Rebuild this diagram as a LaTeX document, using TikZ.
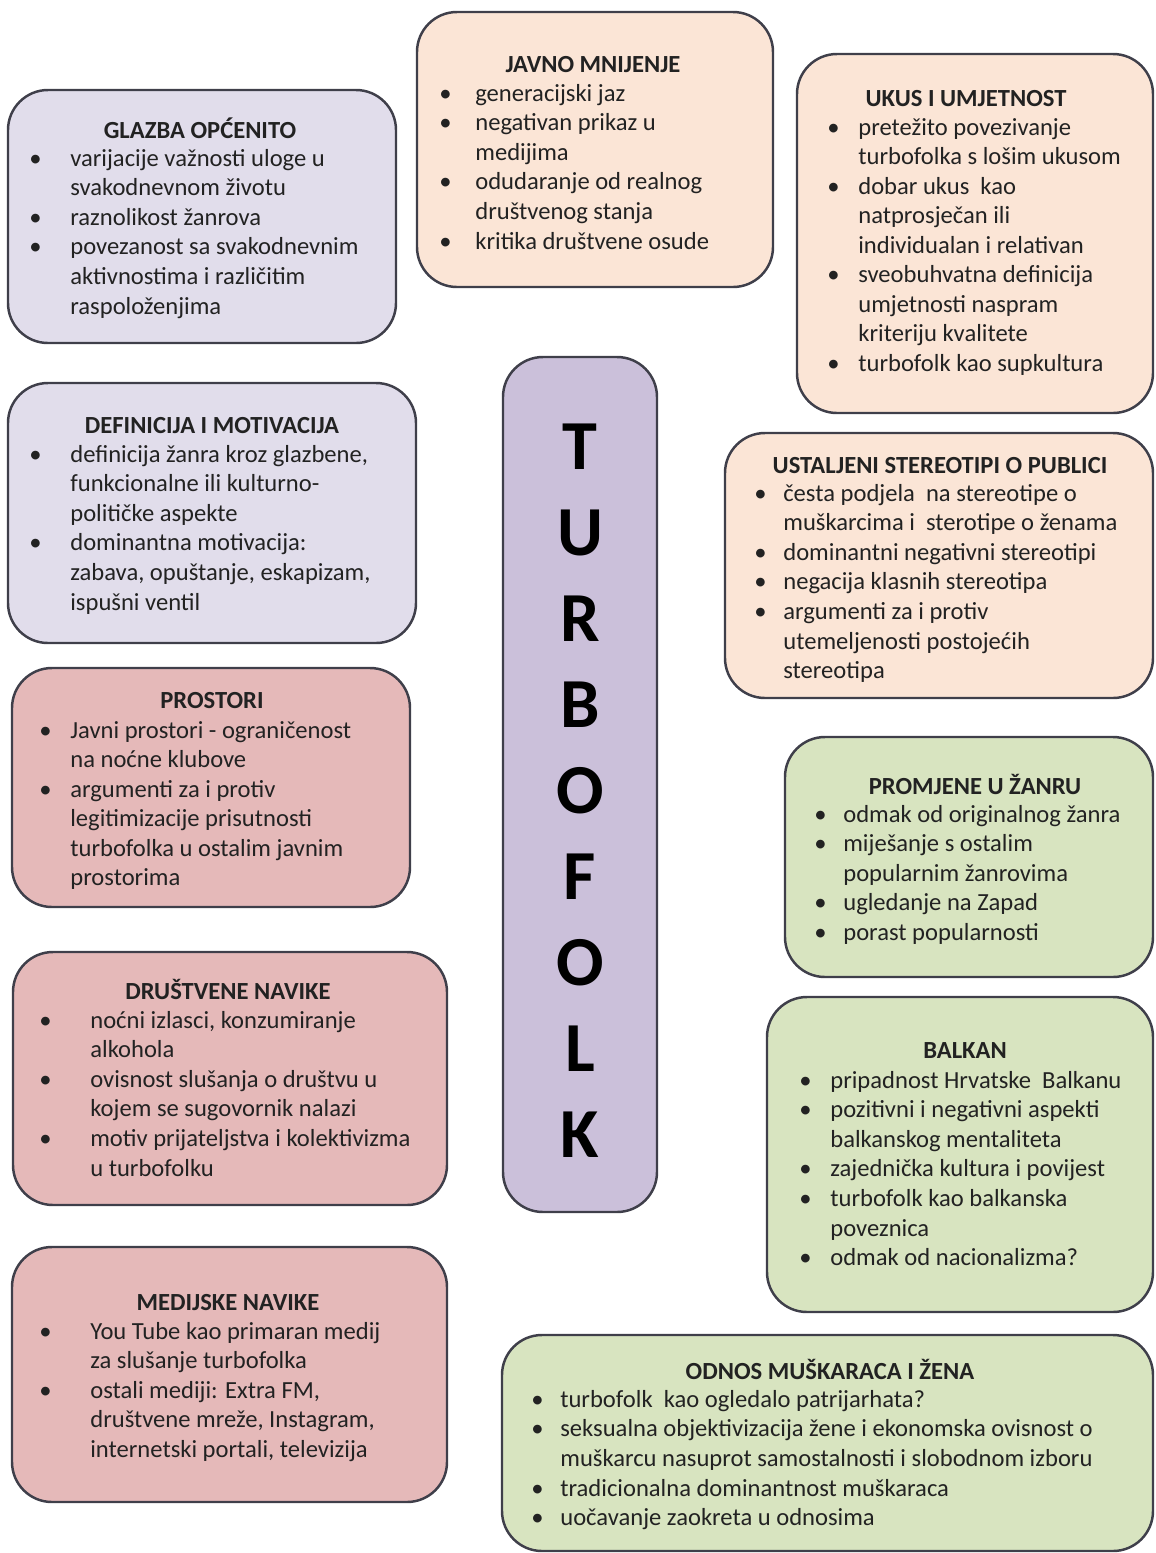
\documentclass[tikz,border=0pt]{standalone}
\usepackage{fontspec}
\setmainfont{Carlito}
\usepackage{tikz}
\usetikzlibrary{fit,positioning}
\definecolor{lav}{HTML}{E1DDEB}
\definecolor{peach}{HTML}{FBE5D6}
\definecolor{rose}{HTML}{E5B9B9}
\definecolor{sage}{HTML}{D8E4C0}
\definecolor{mauve}{HTML}{CBC0DA}
\definecolor{edge}{HTML}{3F3F4A}
\definecolor{ink}{HTML}{222222}
\newlength{\bgap}
\newcommand{\bl}{\llap{\textbullet\hspace{\bgap}}}
\newcommand{\boxfont}{\fontsize{14}{16.8}\selectfont}

\begin{document}
\begin{tikzpicture}[x = .02cm, y = -.02cm, text = ink,
  box/.style = {draw = edge, line width = 1.4pt, rounded corners = .8cm, inner sep = 0pt},
  title/.style = {anchor = base, font = \boxfont\bfseries, inner sep = 0pt},
  items/.style = {anchor = north west, align = left, inner sep = 0pt, font = \boxfont,
    execute at begin node = {\setlength{\bgap}{#1}\strut}},
  big/.style = {font = \fontsize{40}{40}\selectfont\bfseries, text = black, inner sep = 0pt}]
\useasboundingbox (0,0) rectangle (1156,1553);
\node[box, fill = lav, fit = {(8,90) (396,343)}] (glazba) {};
\node[box, fill = peach, fit = {(417,12) (773,287)}] (javno) {};
\node[box, fill = peach, fit = {(797,54) (1153,413)}] (ukus) {};
\node[box, fill = lav, fit = {(8,383) (416,643)}] (definicija) {};
\node[box, fill = mauve, fit = {(503,357) (657,1212)}] (turbofolk) {};
\node[box, fill = peach, fit = {(725,433) (1153,698)}] (stereotipi) {};
\node[box, fill = rose, fit = {(12,668) (410,907)}] (prostori) {};
\node[box, fill = sage, fit = {(785,737) (1153,977)}] (promjene) {};
\node[box, fill = rose, fit = {(13,952) (447,1205)}] (drustvene) {};
\node[box, fill = sage, fit = {(767,997) (1153,1312)}] (balkan) {};
\node[box, fill = rose, fit = {(12,1247) (447,1502)}] (medijske) {};
\node[box, fill = sage, fit = {(502,1335) (1153,1551)}] (odnos) {};
\foreach \l [count = \i from 0] in {T,U,R,B,O,F,O,L,K}
  \node[big] (slovo\i) at (580,447+86*\i) {\l};
\node[title] (glazba-t) at (200,138) {GLAZBA OPĆENITO};
\node[items = 16.3pt] (glazba-i) at (70,149) {\bl varijacije važnosti uloge u\\svakodnevnom životu\\\bl raznolikost žanrova\\\bl povezanost sa svakodnevnim\\aktivnostima i različitim\\raspoloženjima};
\node[title] (javno-t) at (593,72) {JAVNO MNIJENJE};
\node[items = 13.5pt] (javno-i) at (475,84) {\bl generacijski jaz\\\bl negativan prikaz u\\medijima\\\bl odudaranje od realnog\\društvenog stanja\\\bl kritika društvene osude};
\node[title] (ukus-t) at (966,106) {UKUS I UMJETNOST};
\node[items = 10.7pt] (ukus-i) at (858,118) {\bl pretežito povezivanje\\turbofolka s lošim ukusom\\\bl dobar ukus \ kao\\natprosječan ili\\individualan i relativan\\\bl sveobuhvatna definicija\\umjetnosti naspram\\kriteriju kvalitete\\\bl turbofolk kao supkultura};
\node[title] (definicija-t) at (212,433) {DEFINICIJA I MOTIVACIJA};
\node[items = 16.3pt] (definicija-i) at (70,445) {\bl definicija žanra kroz glazbene,\\funkcionalne ili kulturno-\\političke aspekte\\\bl dominantna motivacija:\\zabava, opuštanje, eskapizam,\\ispušni ventil};
\node[title] (stereotipi-t) at (940,473) {USTALJENI STEREOTIPI O PUBLICI};
\node[items = 9.5pt] (stereotipi-i) at (783,484) {\bl česta podjela \ na stereotipe o\\muškarcima i \ sterotipe o ženama\\\bl dominantni negativni stereotipi\\\bl negacija klasnih stereotipa\\\bl argumenti za i protiv\\utemeljenosti postojećih\\stereotipa};
\node[title] (prostori-t) at (212,708) {PROSTORI};
\node[items = 10.7pt] (prostori-i) at (70,721) {\bl Javni prostori - ograničenost\\na noćne klubove\\\bl argumenti za i protiv\\legitimizacije prisutnosti\\turbofolka u ostalim javnim\\prostorima};
\node[title] (promjene-t) at (975,794) {PROMJENE U ŽANRU};
\node[items = 9.5pt] (promjene-i) at (843,805) {\bl odmak od originalnog žanra\\\bl miješanje s ostalim\\popularnim žanrovima\\\bl ugledanje na Zapad\\\bl porast popularnosti};
\node[title] (drustvene-t) at (228,999) {DRUŠTVENE NAVIKE};
\node[items = 22pt] (drustvene-i) at (90,1011) {\bl noćni izlasci, konzumiranje\\alkohola\\\bl ovisnost slušanja o društvu u\\kojem se sugovornik nalazi\\\bl motiv prijateljstva i kolektivizma\\u turbofolku};
\node[title] (balkan-t) at (965,1058) {BALKAN};
\node[items = 10.7pt] (balkan-i) at (830,1071) {\bl pripadnost Hrvatske \ Balkanu\\\bl pozitivni i negativni aspekti\\balkanskog mentaliteta\\\bl zajednička kultura i povijest\\\bl turbofolk kao balkanska\\poveznica\\\bl odmak od nacionalizma?};
\node[title] (medijske-t) at (228,1310) {MEDIJSKE NAVIKE};
\node[items = 22pt] (medijske-i) at (90,1322) {\bl You Tube kao primaran medij\\za slušanje turbofolka\\\bl ostali mediji: Extra FM,\\društvene mreže, Instagram,\\internetski portali, televizija};
\node[title] (odnos-t) at (830,1379) {ODNOS MUŠKARACA I ŽENA};
\node[items = 9.5pt] (odnos-i) at (560,1390) {\bl turbofolk \ kao ogledalo patrijarhata?\\\bl seksualna objektivizacija žene i ekonomska ovisnost o\\muškarcu nasuprot samostalnosti i slobodnom izboru\\\bl tradicionalna dominantnost muškaraca\\\bl uočavanje zaokreta u odnosima};
\end{tikzpicture}
\end{document}
